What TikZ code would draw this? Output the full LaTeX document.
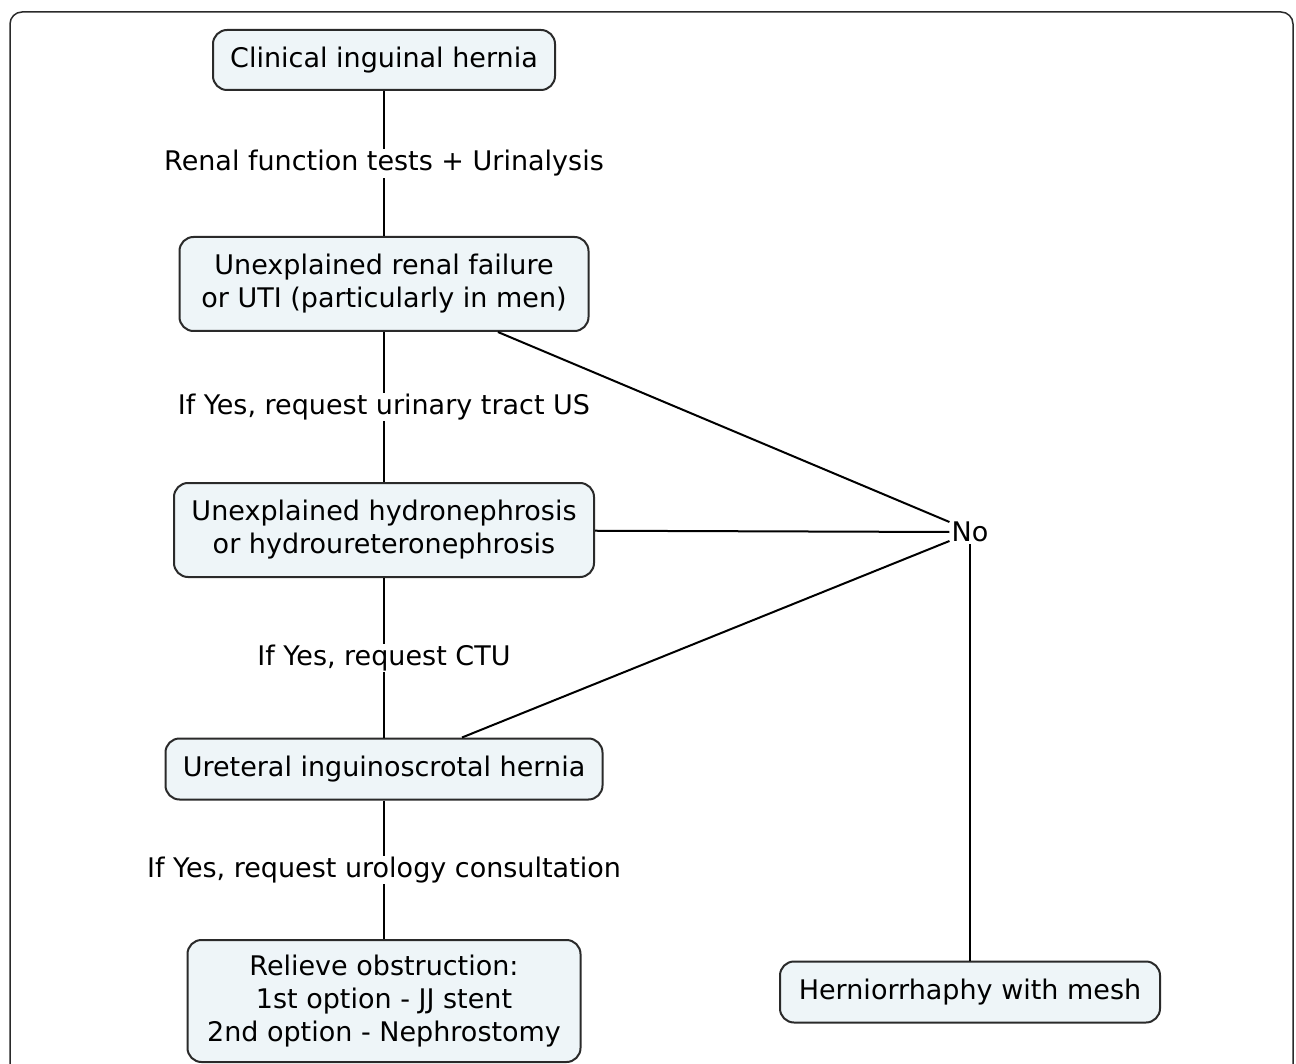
\documentclass[tikz,border=0pt]{standalone}
\usepackage{fontspec}
\setmainfont{DejaVu Sans}
\definecolor{boxfill}{HTML}{EEF5F8}
\definecolor{boxline}{HTML}{2A2A2A}
\begin{document}
\begin{tikzpicture}[x=1pt,y=-1pt,
  flowbox/.style={draw=boxline, line width=2pt, fill=boxfill, rounded corners=14pt,
    align=center, inner sep=0pt, font=\fontsize{27}{33}\selectfont},
  edgelabel/.style={fill=white, inner sep=1pt, font=\fontsize{27}{31}\selectfont},
  conn/.style={draw=black, line width=2pt}]
\useasboundingbox (0,0) rectangle (1296,1064);
\fill[white] (0,0) rectangle (1296,1064);
\draw[boxline, line width=1.5pt, rounded corners=12pt] (10,1100) -- (10,12) -- (1293,12) -- (1293,1100);

\node[flowbox, minimum width=342pt, minimum height=60pt] (b1) at (384,60) {Clinical inguinal hernia};
\node[flowbox, minimum width=409pt, minimum height=94pt] (b2) at (384,284) {Unexplained renal failure\\or UTI (particularly in men)};
\node[flowbox, minimum width=420pt, minimum height=94pt] (b3) at (384,530) {Unexplained hydronephrosis\\or hydroureteronephrosis};
\node[flowbox, minimum width=437pt, minimum height=61pt] (b4) at (384,769) {Ureteral inguinoscrotal hernia};
\node[flowbox, minimum width=393pt, minimum height=122pt] (b5) at (384,1001) {Relieve obstruction:\\1st option - JJ stent\\2nd option - Nephrostomy};
\node[flowbox, minimum width=380pt, minimum height=61pt] (b6) at (970,992) {Herniorrhaphy with mesh};

\node[font=\fontsize{27}{31}\selectfont, inner sep=2pt] (no) at (970,532) {No};

\draw[conn] (b1) -- (b2) node[edgelabel, midway] (l1) {Renal function tests + Urinalysis};
\draw[conn] (b2) -- (b3) node[edgelabel, pos=0.5] (l2) {If Yes, request urinary tract US};
\draw[conn] (b3) -- (b4) node[edgelabel, pos=0.5] (l3) {If Yes, request CTU};
\draw[conn] (b4) -- (b5) node[edgelabel, pos=0.5] (l4) {If Yes, request urology consultation};

\coordinate (na) at ([yshift=10pt]no.west);
\coordinate (nb) at (no.west);
\coordinate (nc) at ([yshift=-9pt]no.west);
\draw[conn] (b2) -- (na);
\draw[conn] (b3) -- (nb);
\draw[conn] (b4) -- (nc);
\draw[conn] (no) -- (b6);
\end{tikzpicture}
\end{document}
